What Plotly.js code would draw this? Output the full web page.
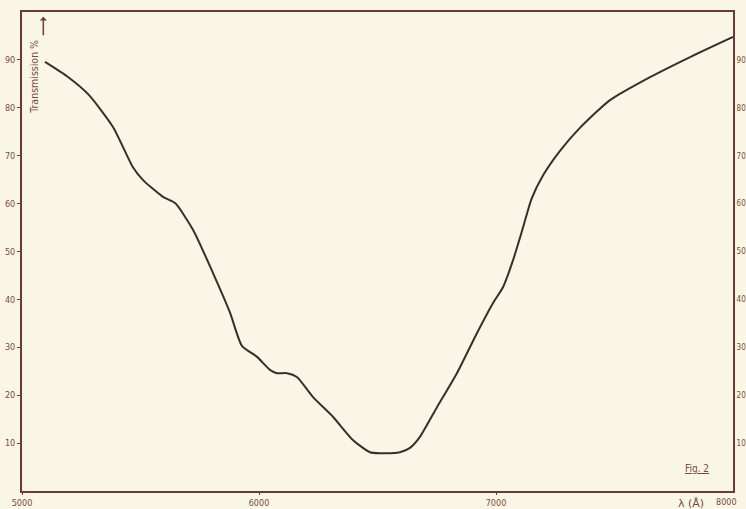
<!DOCTYPE html>
<html>
<head>
<meta charset="utf-8">
<script src="https://cdn.plot.ly/plotly-3.0.1.min.js"></script>
<style>html,body{margin:0;padding:0;background:#faf6e5;}</style>
</head>
<body>
<div id="chart" style="width:746px;height:509px;"></div>
<script>
// Wavelength (Å) and transmission (%)
const wavelength = [5097, 5190, 5280, 5384, 5468, 5511, 5595, 5646, 5722, 5806, 5878, 5928, 5992, 6046, 6076, 6118, 6160, 6228, 6312, 6397, 6468, 6511, 6595, 6637, 6679, 6751, 6835, 6920, 6987, 7030, 7072, 7114, 7150, 7200, 7270, 7350, 7481, 7650, 7819, 8000];
const transmission = [89.6, 86.6, 82.8, 76.0, 67.6, 64.9, 61.4, 60.1, 54.5, 45.5, 37.2, 30.3, 28.0, 25.3, 24.6, 24.6, 23.8, 19.6, 15.5, 10.6, 8.1, 7.9, 8.1, 9.0, 11.3, 17.5, 24.6, 33.0, 39.2, 42.6, 48.2, 55.0, 61.0, 66.0, 71.0, 75.6, 81.6, 86.4, 90.6, 94.8];
const xTickVals = [5000, 6000, 7000];
const xTickText = ["5000", "6000", "7000"];
const yTickVals = [10, 20, 30, 40, 50, 60, 70, 80, 90];
const yTickText = ["10", "20", "30", "40", "50", "60", "70", "80", "90"];

const axisColor = '#6e3a38';
const labelColor = '#7a4a40';
const fontFam = 'DejaVu Sans Condensed, DejaVu Sans, sans-serif';
const tickFont = {family: fontFam, size: 9, color: labelColor};

const traces = [
  {x: wavelength, y: transmission, type: 'scatter', mode: 'lines',
   line: {color: '#3a2e2a', width: 2, shape: 'spline', smoothing: 0.6},
   hoverinfo: 'skip', showlegend: false},
  {x: wavelength, y: transmission, type: 'scatter', mode: 'lines', yaxis: 'y2',
   line: {color: 'rgba(0,0,0,0)', width: 0}, hoverinfo: 'skip', showlegend: false}
];

const layout = {
  width: 746, height: 509,
  margin: {l: 22, r: 13, t: 12, b: 18},
  paper_bgcolor: '#faf6e5', plot_bgcolor: '#faf6e5',
  showlegend: false,
  xaxis: {range: [5000, 8000], showgrid: false, zeroline: false,
    showline: true, linecolor: axisColor, linewidth: 2, mirror: true,
    tickvals: xTickVals, ticktext: xTickText, ticks: 'outside', ticklen: 2,
    tickcolor: axisColor, tickfont: tickFont},
  yaxis: {range: [0, 100], showgrid: false, zeroline: false,
    showline: true, linecolor: axisColor, linewidth: 2, mirror: true,
    tickvals: yTickVals, ticktext: yTickText, ticks: 'outside', ticklen: 3,
    tickcolor: axisColor, tickfont: tickFont},
  yaxis2: {range: [0, 100], overlaying: 'y', side: 'right', showgrid: false, zeroline: false,
    showline: false, tickvals: yTickVals, ticktext: yTickText, ticks: 'outside', ticklen: 1,
    tickcolor: axisColor, ticklabelstandoff: 0, tickfont: {family: fontFam, size: 8, color: labelColor}},
  annotations: [
    {xref: 'paper', yref: 'paper', x: 0.017, y: 0.865, xanchor: 'center', yanchor: 'middle',
     text: 'Transmission %', textangle: -90,
     showarrow: false, font: {family: fontFam, size: 10.5, color: labelColor}},
    {xref: 'paper', yref: 'paper', x: 0.030, y: 0.99, text: '', showarrow: true,
     axref: 'pixel', ayref: 'pixel', ax: 0, ay: 20, arrowhead: 1, arrowsize: 0.8, arrowwidth: 1.5, arrowcolor: axisColor},
    {xref: 'paper', yref: 'paper', x: 0.949, y: 0.048, xanchor: 'center', yanchor: 'middle',
     text: '<u>Fig. 2</u>', showarrow: false,
     font: {family: fontFam, size: 10, color: labelColor}},
    {xref: 'paper', yref: 'paper', x: 0.962, y: -0.008, yanchor: 'top', xanchor: 'right', text: 'λ (Å)', showarrow: false,
     font: {family: 'DejaVu Sans, sans-serif', size: 11, color: labelColor}},
    {xref: 'paper', yref: 'paper', x: 1.008, y: -0.008, yanchor: 'top', xanchor: 'right', text: '8000', showarrow: false,
     font: tickFont}
  ]
};

Plotly.newPlot('chart', traces, layout, {displayModeBar: false, staticPlot: true});
</script>
</body>
</html>
